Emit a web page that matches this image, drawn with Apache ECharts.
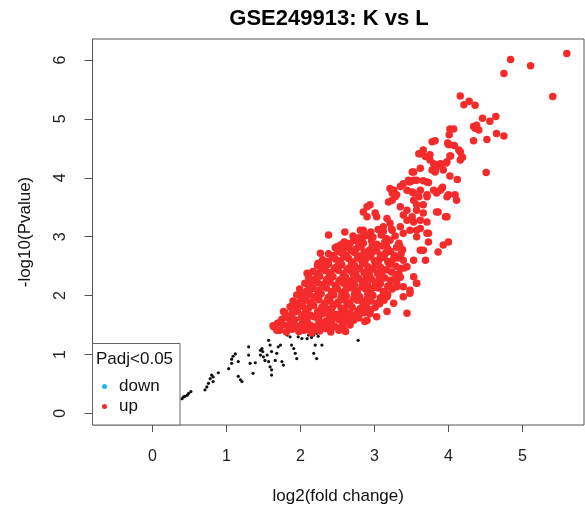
<!DOCTYPE html>
<html>
<head>
<meta charset="utf-8">
<script src="https://cdn.jsdelivr.net/npm/echarts@6/dist/echarts.min.js"></script>
<style>
  html, body { margin: 0; padding: 0; background: #fff; }
  #chart { width: 585px; height: 510px; }
</style>
</head>
<body>
<div id="chart"></div>
<script>
// tick positions
var xTicks = [0, 1, 2, 3, 4, 5];
var yTicks = [0, 1, 2, 3, 4, 5, 6];
var legendNames = ['down', 'up'];

// not significant (black)
var nsPoints = [
  [0.40,0.25],[0.42,0.28],[0.44,0.29],[0.47,0.31],[0.49,0.34],[0.52,0.37],
  [0.71,0.40],[0.735,0.45],[0.757,0.51],[0.78,0.59],[0.80,0.65],[0.82,0.62],[0.82,0.54],[0.89,0.69],
  [1.03,0.76],[1.07,0.85],[1.07,0.92],[1.09,0.97],[1.12,1.01],[1.16,0.88],[1.19,0.57],[1.21,0.54],[1.16,0.63],
  [1.30,1.13],[1.36,0.68],[1.30,0.99],[1.32,0.85],[1.39,0.86],
  [1.46,1.07],[1.48,1.10],[1.49,1.05],[1.46,0.99],[1.50,0.96],[1.52,0.90],[1.55,0.99],
  [1.57,1.24],[1.59,1.16],[1.61,1.05],[1.57,0.88],[1.59,0.79],[1.61,0.74],[1.61,0.65],
  [1.66,0.90],[1.68,1.02],[1.70,1.13],[1.73,1.16],[1.75,0.88],[1.77,0.82],
  [1.82,1.33],[1.86,1.30],[1.88,1.16],[1.91,1.10],[1.93,1.02],[1.95,0.93],
  [1.97,1.30],[2.02,1.27],[2.09,1.27],[2.11,1.33],[2.15,1.29],[2.18,1.33],[2.22,1.36],[2.24,1.31],
  [2.20,1.16],[2.29,1.16],[2.18,1.02],[2.22,0.93],[2.78,1.24]
];

// down-regulated: none
var downPoints = [];

// up-regulated, dense core
var upCore = [
  [1.72,1.41],[1.81,1.38],[1.89,1.43],[1.98,1.39],[2.08,1.42],[2.15,1.37],[2.26,1.40],[2.34,1.44],[2.41,1.38],[2.52,1.41],[2.61,1.39],
  [1.63,1.49],[1.69,1.53],[1.77,1.50],[1.86,1.52],[1.96,1.48],[2.03,1.54],[2.13,1.50],[2.20,1.47],[2.29,1.53],[2.39,1.51],[2.46,1.48],[2.57,1.52],[2.67,1.50],
  [1.75,1.60],[1.82,1.63],[1.92,1.59],[2.01,1.62],[2.09,1.58],[2.18,1.64],[2.25,1.60],[2.35,1.57],[2.44,1.62],[2.52,1.59],[2.61,1.63],[2.70,1.60],[2.79,1.62],
  [1.79,1.71],[1.89,1.69],[1.96,1.73],[2.06,1.70],[2.13,1.67],[2.23,1.72],[2.30,1.69],[2.41,1.71],[2.49,1.68],[2.56,1.73],[2.67,1.70],[2.74,1.67],[2.86,1.71],[2.94,1.69],
  [1.86,1.81],[1.92,1.78],[2.03,1.82],[2.11,1.79],[2.18,1.83],[2.29,1.80],[2.37,1.77],[2.44,1.82],[2.55,1.79],[2.63,1.84],[2.70,1.80],[2.81,1.78],[2.89,1.82],[3.01,1.80],
  [1.90,1.91],[1.97,1.88],[2.07,1.92],[2.14,1.89],[2.25,1.93],[2.33,1.87],[2.40,1.91],[2.51,1.89],[2.59,1.93],[2.66,1.88],[2.77,1.92],[2.84,1.89],[2.95,1.91],[3.03,1.87],[3.13,1.92],
  [1.95,2.01],[2.02,1.98],[2.12,2.02],[2.21,1.99],[2.28,2.03],[2.38,1.97],[2.45,2.01],[2.56,2.04],[2.62,1.99],[2.73,2.02],[2.80,1.98],[2.91,2.03],[2.98,2.00],[3.09,1.97],[3.18,2.02],
  [1.99,2.11],[2.09,2.08],[2.17,2.12],[2.24,2.09],[2.35,2.13],[2.43,2.07],[2.50,2.11],[2.61,2.09],[2.69,2.13],[2.76,2.08],[2.87,2.12],[2.94,2.09],[3.05,2.13],[3.12,2.07],[3.24,2.11],
  [2.06,2.21],[2.12,2.18],[2.23,2.22],[2.30,2.19],[2.40,2.23],[2.47,2.17],[2.58,2.21],[2.66,2.24],[2.73,2.19],[2.84,2.22],[2.91,2.18],[3.01,2.23],[3.08,2.20],[3.20,2.17],[3.30,2.22],
  [2.11,2.31],[2.20,2.28],[2.26,2.33],[2.37,2.29],[2.44,2.32],[2.54,2.27],[2.61,2.31],[2.72,2.34],[2.79,2.29],[2.89,2.32],[2.96,2.28],[3.07,2.33],[3.14,2.30],[3.26,2.27],[3.35,2.31],
  [2.17,2.41],[2.23,2.38],[2.34,2.42],[2.41,2.39],[2.51,2.43],[2.58,2.37],[2.69,2.41],[2.76,2.44],[2.86,2.39],[2.93,2.42],[3.04,2.38],[3.11,2.43],[3.23,2.40],[3.33,2.37],
  [2.23,2.51],[2.32,2.48],[2.38,2.53],[2.49,2.49],[2.56,2.52],[2.66,2.47],[2.73,2.51],[2.84,2.54],[2.91,2.49],[3.01,2.52],[3.08,2.48],[3.20,2.53],[3.29,2.50],[3.40,2.47],
  [2.30,2.61],[2.37,2.58],[2.47,2.62],[2.54,2.59],[2.65,2.63],[2.71,2.57],[2.82,2.61],[2.89,2.64],[3.00,2.59],[3.07,2.62],[3.18,2.58],[3.26,2.63],[3.39,2.60],
  [2.38,2.71],[2.45,2.68],[2.56,2.72],[2.62,2.69],[2.73,2.73],[2.80,2.67],[2.90,2.71],[2.97,2.74],[3.08,2.69],[3.15,2.72],[3.27,2.68],[3.36,2.71],
  [2.47,2.81],[2.57,2.78],[2.64,2.82],[2.75,2.79],[2.82,2.83],[2.93,2.77],[3.00,2.81],[3.11,2.84],[3.18,2.79],[3.30,2.82],[3.38,2.78],
  [2.59,2.91],[2.67,2.88],[2.78,2.92],[2.85,2.89],[2.96,2.93],[3.03,2.87],[3.14,2.91],[3.21,2.94],[3.33,2.89],
  [2.71,3.01],[2.79,2.98],[2.91,3.02],[2.98,2.99],[3.09,3.03],[3.16,2.97],[3.28,3.01],
  [2.85,3.11],[2.95,3.08],[3.05,3.12],[3.12,3.09],[3.23,3.13]
];

// up-regulated, points filling the gaps of the densest part
var upFill = [
  [1.85,1.46],[2.02,1.45],[2.19,1.44],[2.36,1.46],[2.53,1.45],
  [1.73,1.55],[1.91,1.56],[2.08,1.54],[2.25,1.56],[2.42,1.55],[2.62,1.56],
  [1.86,1.65],[2.04,1.66],[2.21,1.64],[2.39,1.66],[2.57,1.65],[2.75,1.64],
  [1.90,1.75],[2.08,1.76],[2.25,1.74],[2.42,1.76],[2.60,1.75],[2.78,1.74],[2.95,1.76],
  [1.96,1.85],[2.14,1.86],[2.32,1.84],[2.49,1.86],[2.67,1.85],[2.85,1.84],[3.07,1.86],
  [2.02,1.95],[2.19,1.96],[2.37,1.94],[2.55,1.96],[2.72,1.95],[2.90,1.94],[3.08,1.96],
  [2.06,2.05],[2.24,2.06],[2.42,2.04],[2.59,2.06],[2.77,2.05],[2.95,2.04],[3.14,2.06],
  [2.13,2.15],[2.30,2.16],[2.48,2.14],[2.65,2.16],[2.83,2.15],[3.00,2.14],[3.18,2.16],
  [2.17,2.25],[2.35,2.26],[2.52,2.24],[2.70,2.26],[2.87,2.25],[3.05,2.24],[3.22,2.26],
  [2.23,2.35],[2.40,2.36],[2.58,2.34],[2.75,2.36],[2.93,2.35],[3.10,2.34],[3.29,2.36],
  [2.28,2.45],[2.46,2.46],[2.63,2.44],[2.80,2.46],[2.98,2.45],[3.16,2.44],[3.35,2.46],
  [2.34,2.55],[2.52,2.56],[2.69,2.54],[2.87,2.56],[3.05,2.55],[3.23,2.54],
  [2.43,2.65],[2.60,2.66],[2.77,2.64],[2.95,2.66],[3.13,2.65],[3.32,2.64],
  [2.52,2.75],[2.69,2.76],[2.86,2.74],[3.03,2.76],[3.22,2.75],
  [2.62,2.85],[2.79,2.86],[2.97,2.84],[3.16,2.86],[3.34,2.85]
];

// up-regulated, scattered around the core and the upper tail
var upOuter = [
  [5.60,6.11],[4.84,6.01],[5.11,5.90],[4.75,5.77],[5.41,5.38],
  [4.16,5.39],[4.21,5.24],[4.28,5.30],[4.36,5.23],
  [4.46,5.01],[4.56,4.96],[4.64,5.04],
  [4.34,4.87],[4.38,4.89],[4.41,4.81],[4.36,4.84],
  [4.34,4.63],[4.52,4.65],[4.65,4.75],[4.75,4.71],
  [4.02,4.83],[4.07,4.83],[4.01,4.73],
  [3.99,4.59],[4.01,4.56],[4.08,4.55],[4.14,4.47],[4.19,4.35],
  [4.03,4.37],[3.97,4.25],[3.89,4.22],[4.02,4.03],[4.12,3.97],[4.51,4.09],[3.92,3.84],
  [3.62,4.41],[3.75,4.39],[3.80,4.24],[3.82,4.13],[3.86,4.22],[3.98,4.27],[4.02,4.37],[4.16,4.44],[4.18,4.35],
  [3.53,4.10],[3.39,3.90],[3.48,3.93],[3.57,3.96],[3.66,3.95],[3.73,3.92],
  [3.21,3.82],[3.26,3.79],[3.30,3.71],
  [3.19,3.59],[3.24,3.62],[3.35,3.51],[3.39,3.37],[3.51,3.76],[3.53,3.62],[3.71,3.71],[3.84,3.74],[3.89,3.79],[4.00,3.71],[4.09,3.71],[4.11,3.62],
  [3.86,3.42],[3.98,3.34],[3.71,3.25],
  [3.57,3.45],[3.66,3.40],[3.62,3.28],[3.57,3.11],[3.71,3.06],[3.73,2.91],[3.62,2.77],[3.53,2.60],[3.66,2.77],[3.69,2.60],[3.86,2.74],[3.93,2.86],[4.00,2.91],
  [3.44,2.49],[3.53,2.32],[3.57,2.21],[3.48,2.04],[3.39,2.15],[3.30,2.15],[3.17,1.98],
  [3.78,4.61],[3.82,4.63],[4.00,4.57],
  [3.66,4.47],[3.60,4.41],[3.69,4.36],[3.75,4.30],[3.84,4.19],[3.78,4.13],[3.82,4.10],[3.89,4.24],[3.93,4.13],[4.16,4.30],
  [3.51,4.10],[3.62,4.16],[3.71,3.93],
  [3.46,3.96],[3.53,3.96],[3.35,3.85],[3.24,3.74],[3.28,3.68],[3.44,3.79],[3.53,3.74],[3.60,3.68],[3.62,3.79],[3.71,3.68],[3.57,3.54],[3.66,3.54],[3.44,3.45],[3.80,3.79],[3.91,3.82],[3.98,3.68],
  [2.90,3.51],[2.94,3.54],[2.85,3.42],[2.90,3.34],[3.01,3.40],[3.03,3.34],[3.17,3.31],[3.21,3.23],[3.12,3.17],[3.08,3.11],[3.24,3.11],[3.35,3.17],[3.44,3.28],[3.51,3.34],[3.53,3.25],[3.39,3.06],[3.48,3.11],[3.62,3.14],[3.57,3.00],[3.73,3.06],[3.84,3.42],[3.96,3.34],
  [2.38,3.03],[2.81,3.11],[2.85,3.00],[2.60,3.08],
  [2.27,2.72],[2.49,2.80],[2.54,2.86],[2.63,2.89],[2.72,2.94],[2.49,2.83],[2.24,2.55],[2.09,2.38],
  [2.11,2.35],[2.13,2.21],[2.00,2.01],[1.97,1.87],[1.77,1.73],[1.64,1.47],[1.68,1.41],[1.91,1.84],
  [1.86,1.53],[1.95,1.47],[2.04,1.41],[2.18,1.41],[2.27,1.47],
  [2.45,1.47],[2.58,1.44],[2.72,1.58],[2.90,1.58],[3.03,1.64],[3.17,1.73],[3.26,1.87],[3.39,1.98],[3.48,2.09],[3.57,2.21],[3.44,1.70],[2.87,1.56],[2.56,1.44]
];

var upPoints = upCore.concat(upFill, upOuter);

var chart = echarts.init(document.getElementById('chart'), null, { renderer: 'canvas' });

var textFont = 'Liberation Sans, Arial, sans-serif';

var option = {
  backgroundColor: '#ffffff',
  animation: false,
  title: {
    text: 'GSE249913: K vs L',
    left: 329,
    top: 8,
    padding: 0,
    textAlign: 'center',
    textStyle: { fontFamily: textFont, fontSize: 22, fontWeight: 'bold', color: '#000' }
  },
  grid: {
    left: 92.5, right: 1, top: 39, bottom: 85,
    show: true, borderColor: '#555', borderWidth: 1, backgroundColor: 'transparent'
  },
  legend: {
    data: legendNames,
    orient: 'vertical',
    left: 97,
    top: 373,
    z: 110,
    icon: 'circle',
    itemWidth: 19,
    itemHeight: 5,
    itemGap: 3,
    selectedMode: false,
    textStyle: { fontFamily: textFont, fontSize: 17, color: '#111' }
  },
  graphic: [
    {
      type: 'rect', z: 100, silent: true,
      shape: { x: 92.5, y: 343.5, width: 87.5, height: 81.5 },
      style: { fill: '#fff', stroke: '#666', lineWidth: 1 }
    },
    {
      type: 'text', z: 101, silent: true, left: 96, top: 351,
      style: { text: 'Padj<0.05', fill: '#111', font: '17px ' + textFont }
    }
  ],
  xAxis: {
    type: 'value',
    min: -0.81, max: 5.832,
    name: 'log2(fold change)',
    nameLocation: 'middle',
    nameGap: 63,
    nameTextStyle: { fontFamily: textFont, fontSize: 17, color: '#111' },
    axisLine: { show: false, onZero: false },
    splitLine: { show: false },
    axisTick: { show: true, inside: false, length: 7, customValues: xTicks, lineStyle: { color: '#555' } },
    axisLabel: { customValues: xTicks, margin: 24, fontFamily: textFont, fontSize: 16, color: '#222' }
  },
  yAxis: {
    type: 'value',
    min: -0.197, max: 6.356,
    name: '-log10(Pvalue)',
    nameLocation: 'middle',
    nameGap: 59,
    nameTextStyle: { fontFamily: textFont, fontSize: 17, color: '#111' },
    axisLine: { show: false, onZero: false },
    splitLine: { show: false },
    axisTick: { show: true, inside: false, length: 8, customValues: yTicks, lineStyle: { color: '#555' } },
    axisLabel: { customValues: yTicks, rotate: 90, margin: 24, fontFamily: textFont, fontSize: 16, color: '#222' }
  },
  series: [
    {
      name: 'ns', type: 'scatter', data: nsPoints,
      symbol: 'circle', symbolSize: 3.2,
      itemStyle: { color: '#111', opacity: 1 }
    },
    {
      name: 'down', type: 'scatter', data: downPoints,
      symbol: 'circle', symbolSize: 7,
      itemStyle: { color: '#1fb5ef', opacity: 1 }
    },
    {
      name: 'up', type: 'scatter', data: upPoints,
      symbol: 'circle', symbolSize: 7.5,
      itemStyle: { color: '#f52b2b', opacity: 1 }
    }
  ]
};

chart.setOption(option);
</script>
</body>
</html>
